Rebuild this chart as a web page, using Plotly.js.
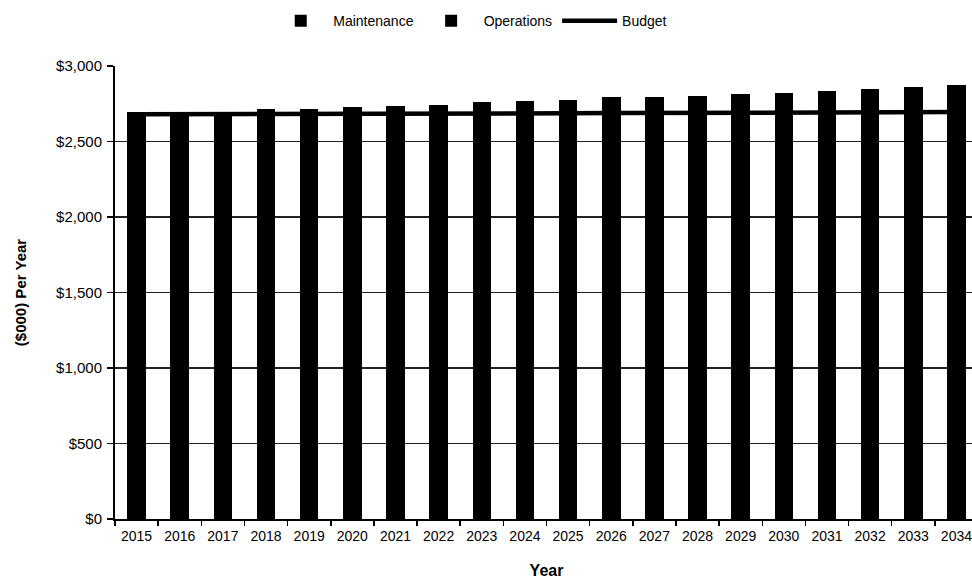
<!DOCTYPE html>
<html>
<head>
<meta charset="utf-8">
<script src="https://cdn.plot.ly/plotly-3.0.1.min.js"></script>
<style>
  html, body { margin: 0; padding: 0; background: #fff; overflow: hidden; }
  #chart { width: 990px; height: 588px; }
</style>
</head>
<body>
<div id="chart"></div>
<script>
const years = ['2015','2016','2017','2018','2019','2020','2021','2022','2023','2024',
               '2025','2026','2027','2028','2029','2030','2031','2032','2033','2034'];
const maintenance = [1020,1015,1012,1030,1025,1035,1040,1048,1055,1060,
                     1065,1075,1075,1080,1085,1090,1100,1108,1115,1122];
const operations  = [1674,1675,1678,1682,1687,1692,1694,1697,1705,1710,
                     1713,1719,1721,1723,1728,1730,1736,1741,1745,1751];
const budget      = [2680,2680,2681,2682,2683,2684,2684,2685,2686,2687,
                     2687,2688,2689,2690,2690,2691,2692,2693,2694,2695];

const font = 'Liberation Sans, Arial, sans-serif';

const traces = [
  { type: 'bar', name: 'Maintenance', x: years, y: maintenance,
    marker: { color: '#000000', line: { width: 0 } } },
  { type: 'bar', name: 'Operations', x: years, y: operations,
    marker: { color: '#000000', line: { width: 0 } } },
  { type: 'scatter', mode: 'lines', name: 'Budget', x: years, y: budget,
    line: { color: '#000000', width: 4.5 } }
];

const layout = {
  width: 990, height: 588,
  margin: { l: 115, r: 12, t: 66, b: 69 },
  paper_bgcolor: '#ffffff', plot_bgcolor: '#ffffff',
  font: { family: font, color: '#000', size: 12 },
  barmode: 'stack',
  bargap: 0.57,
  showlegend: true,
  legend: {
    orientation: 'h', xref: 'container', yref: 'container',
    x: 0.475, xanchor: 'center', y: 0.964, yanchor: 'middle',
    font: { family: font, size: 14, color: '#000' },
    traceorder: 'normal', itemwidth: 55
  },
  xaxis: {
    type: 'category',
    showline: true, linecolor: '#000', linewidth: 2,
    ticks: 'outside', tickson: 'boundaries', ticklen: 5, tickcolor: '#000', tickwidth: 1.5,
    ticklabelstandoff: 3,
    showgrid: false,
    tickfont: { family: font, size: 14, color: '#000' },
    title: { text: '<b>Year</b>', font: { family: font, size: 16, color: '#000' }, standoff: 22 }
  },
  yaxis: {
    range: [0, 3000], dtick: 500, tickprefix: '$', tickformat: ',d',
    showline: true, linecolor: '#000', linewidth: 2,
    ticks: 'outside', ticklen: 6, tickcolor: '#000', tickwidth: 1.5,
    ticklabelstandoff: 2,
    showgrid: true, gridcolor: '#222', gridwidth: 1.5,
    zeroline: false,
    tickfont: { family: font, size: 15, color: '#000' },
    title: { text: '<b>($000) Per Year</b>', font: { family: font, size: 15, color: '#000' }, standoff: 26 }
  }
};

Plotly.newPlot('chart', traces, layout, { displayModeBar: false, staticPlot: true });
</script>
</body>
</html>
